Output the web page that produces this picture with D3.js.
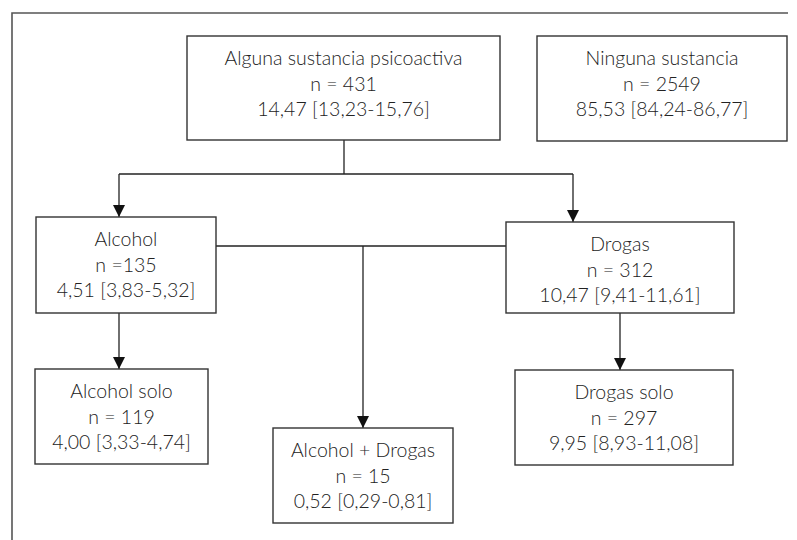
<!DOCTYPE html>
<html>
<head>
<meta charset="utf-8">
<script src="https://cdn.jsdelivr.net/npm/d3@7"></script>
<style>
  body { margin: 0; background: #fff; }
  text { font-family: "Lato", "Open Sans", sans-serif; fill: #222; }
</style>
</head>
<body>
<div id="main"></div>
<script>
//data
const ids = ["alguna", "ninguna", "alcohol", "drogas", "alcoholSolo", "ambos", "drogasSolo"];
const titles = ["Alguna sustancia psicoactiva", "Ninguna sustancia", "Alcohol", "Drogas",
                "Alcohol solo", "Alcohol + Drogas", "Drogas solo"];
const counts = ["n = 431", "n = 2549", "n =135", "n = 312", "n = 119", "n = 15", "n = 297"];
const pct = ["14,47", "85,53", "4,51", "10,47", "4,00", "0,52", "9,95"];
const ciLow = ["13,23", "84,24", "3,83", "9,41", "3,33", "0,29", "8,93"];
const ciHigh = ["15,76", "86,77", "5,32", "11,61", "4,74", "0,81", "11,08"];

//layout of the boxes (x, y, w, h)
const layout = {
  alguna:      [187, 36, 313, 104],
  ninguna:     [537, 36, 250, 105],
  alcohol:     [36, 217, 180, 96],
  drogas:      [506, 222, 228, 91],
  alcoholSolo: [35, 369, 173, 95],
  ambos:       [273, 428, 180, 95],
  drogasSolo:  [515, 370, 218, 95]
};

//connectors, arrow = true puts a head at the end
const links = [
  {pts: [[344, 140], [344, 174]], arrow: false},
  {pts: [[119, 174], [573, 174]], arrow: false},
  {pts: [[119, 174], [119, 217]], arrow: true},
  {pts: [[573, 174], [573, 222]], arrow: true},
  {pts: [[216, 246], [506, 246]], arrow: false},
  {pts: [[363, 246], [363, 428]], arrow: true},
  {pts: [[119, 313], [119, 369]], arrow: true},
  {pts: [[620, 313], [620, 370]], arrow: true}
];

const width = 797, height = 540;

const svg = d3.select('#main')
              .append('svg')
              .attr('width', width)
              .attr('height', height);

svg.append('defs').append('marker')
   .attr('id', 'head')
   .attr('viewBox', '0 0 12 12')
   .attr('refX', 12).attr('refY', 6)
   .attr('markerUnits', 'userSpaceOnUse')
   .attr('markerWidth', 12).attr('markerHeight', 12)
   .attr('orient', 'auto')
   .append('path')
   .attr('d', 'M0,0 L12,6 L0,12 Z')
   .attr('fill', '#111');

//outer frame (only top and left edges)
svg.append('path')
   .attr('d', d3.line()([[12, 540], [12, 13], [788, 13]]))
   .attr('fill', 'none')
   .attr('stroke', '#555')
   .attr('stroke-width', 1.6);

//connectors
const line = d3.line();
svg.selectAll('.link').data(links).enter()
   .append('path').attr('class', 'link')
   .attr('d', d => line(d.pts))
   .attr('fill', 'none')
   .attr('stroke', '#222')
   .attr('stroke-width', 1.3)
   .attr('marker-end', d => d.arrow ? 'url(#head)' : null);

//boxes
const nodes = ids.map((id, i) => ({
  id: id,
  lines: [titles[i], counts[i], pct[i] + " [" + ciLow[i] + "-" + ciHigh[i] + "]"],
  box: layout[id]
}));

const g = svg.selectAll('.node').data(nodes).enter()
   .append('g').attr('class', 'node')
   .attr('transform', d => "translate(" + d.box[0] + "," + d.box[1] + ")");

g.append('rect')
   .attr('width', d => d.box[2])
   .attr('height', d => d.box[3])
   .attr('fill', '#fff')
   .attr('stroke', '#333')
   .attr('stroke-width', 1.4);

g.selectAll('text').data(d => d.lines.map(t => ({t: t, w: d.box[2]}))).enter()
   .append('text')
   .attr('x', d => d.w / 2)
   .attr('y', (d, i) => 29 + i * 25.5)
   .attr('text-anchor', 'middle')
   .style('font-size', '19.5px')
   .style('font-weight', 300)
   .text(d => d.t);
</script>
</body>
</html>
